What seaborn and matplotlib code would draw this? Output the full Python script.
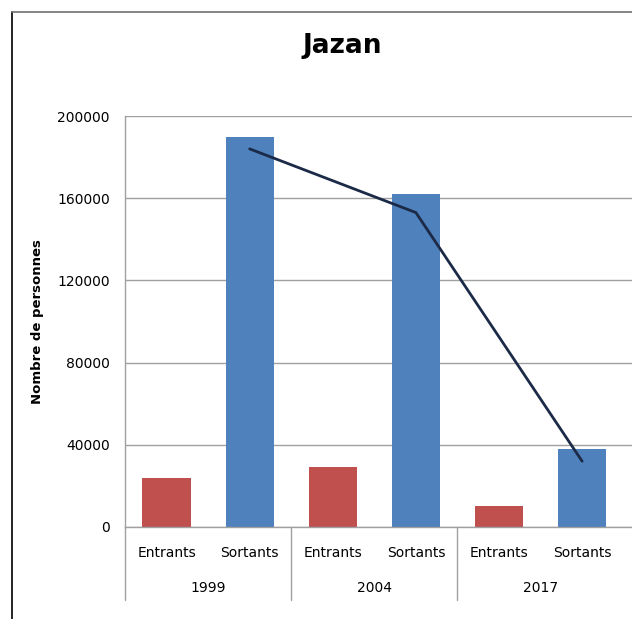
import numpy as np
import pandas as pd
import matplotlib
matplotlib.use("Agg")
import matplotlib.pyplot as plt
from matplotlib.lines import Line2D
import matplotlib.transforms as mtransforms
import seaborn as sns

# Data
years = ["1999", "2004", "2017"]
flux_types = ["Entrants", "Sortants"]
entrants = [24000, 29000, 10000]
sortants = [190000, 162000, 38000]
trend = [184000, 153000, 32000]
y_ticks = [0, 40000, 80000, 120000, 160000, 200000]

rows = []
for yr, e, s in zip(years, entrants, sortants):
    rows.append({"cat": f"{yr} Entrants", "type": "Entrants", "value": e})
    rows.append({"cat": f"{yr} Sortants", "type": "Sortants", "value": s})
df = pd.DataFrame(rows)

sns.set_style("white")
plt.rcParams["font.family"] = ["DejaVu Sans"]
plt.rcParams["text.color"] = "black"
plt.rcParams["axes.labelcolor"] = "black"
plt.rcParams["xtick.labelcolor"] = "black"
plt.rcParams["ytick.labelcolor"] = "black"

W, H = 632, 619
fig = plt.figure(figsize=(W / 100, H / 100), dpi=100)
ax = fig.add_axes([125 / W, 1 - 527 / H, (W - 125) / W, (527 - 116) / H])

grid_c = "#A0A0A0"
ax.set_axisbelow(True)
ax.yaxis.grid(True, color=grid_c, linewidth=1.0)

sns.barplot(data=df, x="cat", y="value", hue="type",
            palette={"Entrants": "#C0504D", "Sortants": "#4F81BD"},
            dodge=False, width=0.58, saturation=1, legend=False, ax=ax,
            edgecolor="none")

# Trend line across the Sortants bars
sortant_pos = [i * 2 + 1 for i in range(len(years))]
sns.lineplot(x=sortant_pos, y=trend, ax=ax, color="#1B2A47", linewidth=2.0,
             legend=False)

ax.set_ylim(0, 200000)
ax.set_xlim(-0.5, 5.6)
ax.set_yticks(y_ticks)
ax.set_yticklabels([str(v) for v in y_ticks], fontsize=10, color="black")
ax.set_xticks(range(6))
ax.set_xticklabels(flux_types * len(years), fontsize=10, color="black")
ax.tick_params(axis="x", length=0, pad=14)
ax.tick_params(axis="y", length=5, width=1, color=grid_c, direction="out", pad=6)
ax.set_xlabel("")
ax.set_ylabel("Nombre de personnes", fontsize=9.5, fontweight="bold",
              labelpad=9, color="black")

for side in ["top", "right"]:
    ax.spines[side].set_visible(False)
for side in ["left", "bottom"]:
    ax.spines[side].set_color(grid_c)
    ax.spines[side].set_linewidth(1.0)

# Group separators and year labels under the category axis
trans = mtransforms.blended_transform_factory(ax.transData, ax.transAxes)
sep_depth = (600 - 527) / (527 - 116)
for b in [-0.5, 1.5, 3.5]:
    ax.add_line(Line2D([b, b], [0, -sep_depth], transform=trans, color=grid_c,
                       linewidth=1.0, clip_on=False))
for i, yr in enumerate(years):
    ax.text(2 * i + 0.5, -(588 - 527) / (527 - 116), yr, transform=trans,
            ha="center", va="center", fontsize=10, color="black")

fig.text(342 / W, 1 - 46 / H, "Jazan", ha="center", va="center",
         fontsize=19, fontweight="bold", color="black")

# Chart area border
fig.add_artist(Line2D([12 / W, 12 / W], [0, 1 - 12 / H], transform=fig.transFigure,
                      color="black", linewidth=1.2))
fig.add_artist(Line2D([12 / W, 1], [1 - 12 / H, 1 - 12 / H], transform=fig.transFigure,
                      color="#707070", linewidth=1.2))

fig.savefig("out.png", dpi=100, facecolor="white")
